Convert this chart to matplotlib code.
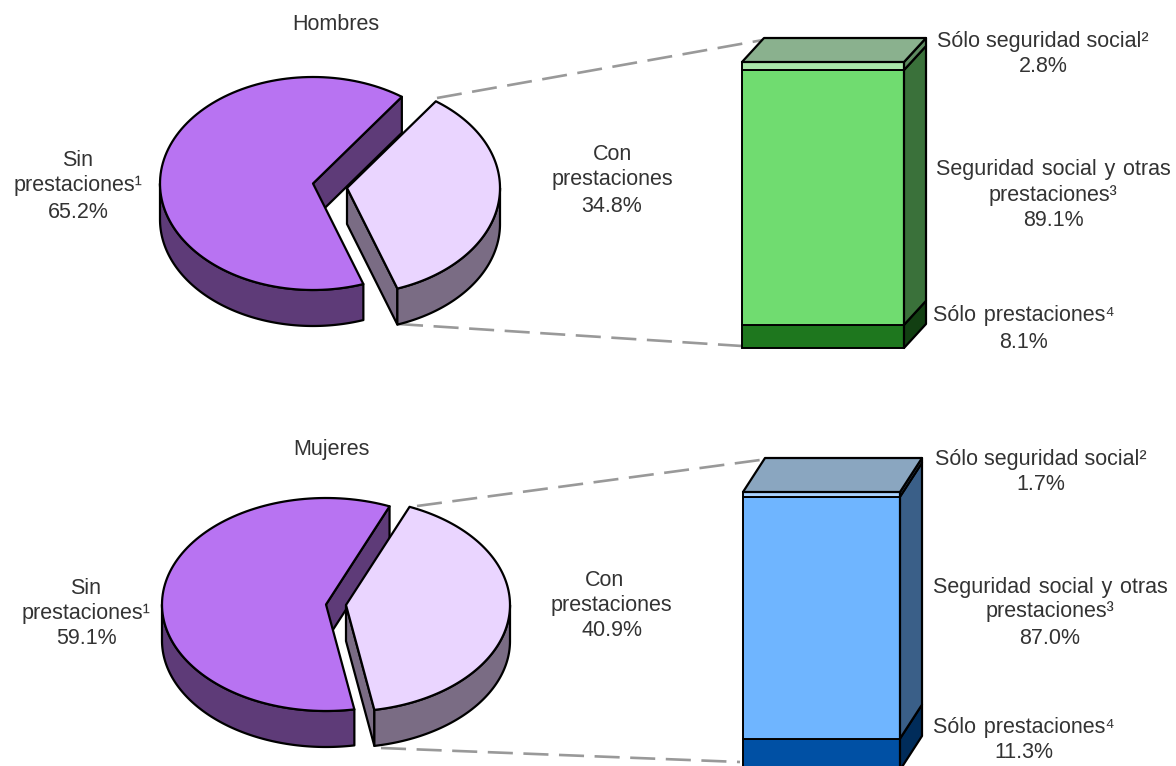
import numpy as np
import matplotlib
matplotlib.use("Agg")
import matplotlib.pyplot as plt
from matplotlib.patches import Polygon

plt.rcParams["font.family"] = ["Liberation Sans", "DejaVu Sans"]

# data
hombres_pie = [65.2, 34.8]
mujeres_pie = [59.1, 40.9]
hombres_bar = [8.1, 89.1, 2.8]
mujeres_bar = [11.3, 87.0, 1.7]

purple = ["#B873F2", "#5E3B78"]
lilac = ["#EAD5FF", "#7A6C84"]
hombres_colors = [
    ("#1E771E", "#123F12"),
    ("#70DC70", "#3A713A"),
    ("#A9E6A9", "#5E8A60"),
]
hombres_top = "#8AB18E"
mujeres_colors = [
    ("#0050A4", "#002C5A"),
    ("#6FB5FF", "#3A5F88"),
    ("#A9D2FF", "#4E6A88"),
]
mujeres_top = "#8AA6C0"

TEXT = "#333333"
DASH = "#999999"
FS = 15.5
HAIR = "\u200a"


def arc(cx, cy, rx, ry, a0, a1, n=120):
    t = np.radians(np.linspace(a0, a1, n))
    return np.column_stack([cx + rx * np.cos(t), cy - ry * np.sin(t)])


def face(ax, pts, color, z=2):
    ax.add_patch(Polygon(pts, closed=True, facecolor=color, edgecolor="black",
                         linewidth=1.6, joinstyle="round", zorder=z))


def draw_pie(ax, values, cx, cy, rx, ry, depth, start, offset):
    # second value is the separated slice, running clockwise from start
    span = values[1] / sum(values) * 360
    end = start - span
    down = np.array([0, depth])

    # large slice
    c = np.array([cx, cy])
    rim = arc(cx, cy, rx, ry, start, end + 360)
    face(ax, [c, rim[0], rim[0] + down, c + down], purple[1])
    side = arc(cx, cy, rx, ry, 180, end + 360)
    face(ax, np.vstack([side, side[::-1] + down]), purple[1])
    face(ax, np.vstack([c, rim]), purple[0])

    # separated slice
    c = c + np.array(offset)
    rim = arc(c[0], c[1], rx, ry, end, start)
    face(ax, [c, rim[0], rim[0] + down, c + down], lilac[1])
    side = arc(c[0], c[1], rx, ry, end, 0)
    face(ax, np.vstack([side, side[::-1] + down]), lilac[1])
    face(ax, np.vstack([c, rim]), lilac[0])


def draw_bar(ax, values, colors, top_color, x0, x1, y_top, y_bottom, dx, dy):
    scale = (y_bottom - y_top) / sum(values)
    level = y_bottom
    for val, (front, right) in zip(values, colors):
        h = val * scale
        ax.bar((x0 + x1) / 2, -h, width=x1 - x0, bottom=level, color=front,
               edgecolor="black", linewidth=1.4, zorder=3)
        face(ax, [(x1, level), (x1 + dx, level - dy), (x1 + dx, level - h - dy),
                  (x1, level - h)], right, z=3)
        level -= h
    face(ax, [(x0, level), (x0 + dx, level - dy), (x1 + dx, level - dy), (x1, level)],
         top_color, z=3)


def dashed(ax, p0, p1):
    ax.plot([p0[0], p1[0]], [p0[1], p1[1]], color=DASH, linewidth=1.9,
            linestyle=(0, (9.5, 4)), dash_capstyle="butt", zorder=1)


def label(ax, x, y, s):
    ax.text(x, y + 1, s, ha="center", va="center", fontsize=FS, color=TEXT, zorder=5)


fig = plt.figure(figsize=(11.76, 7.66), dpi=100)
ax = fig.add_axes([0, 0, 1, 1])
ax.set_xlim(0, 1176)
ax.set_ylim(766, 0)
ax.axis("off")

seg_otras = f"Seguridad{HAIR} social{HAIR} y{HAIR} otras"
solo_prest = f"Sólo{HAIR} prestaciones⁴"

# Hombres
dashed(ax, (437, 98), (763, 40))
dashed(ax, (398, 324), (742, 346))
draw_pie(ax, hombres_pie, 313, 183.5, 153, 106.5, 36, 54.5, (34, 4.5))
draw_bar(ax, hombres_bar, hombres_colors, hombres_top, 742, 904, 62, 348, 22, 24)

label(ax, 336, 24, "Hombres")
label(ax, 78, 160, "Sin")
label(ax, 78, 185, "prestaciones¹")
label(ax, 78, 211, f"{hombres_pie[0]:.1f}%")
label(ax, 612, 153, "Con")
label(ax, 612, 179, "prestaciones")
label(ax, 612, 205, f"{hombres_pie[1]:.1f}%")
label(ax, 1043, 41, "Sólo seguridad social²")
label(ax, 1043, 66, f"{hombres_bar[2]:.1f}%")
label(ax, 1053, 168, seg_otras)
label(ax, 1053, 195, "prestaciones³")
label(ax, 1053, 220, f"{hombres_bar[1]:.1f}%")
label(ax, 1024, 315, solo_prest)
label(ax, 1024, 341, f"{hombres_bar[0]:.1f}%")

# Mujeres
dashed(ax, (417, 506), (760, 460))
dashed(ax, (381, 748), (740, 762))
draw_pie(ax, mujeres_pie, 326, 604.5, 164, 106.5, 36, 67.2, (20, 0.5))
draw_bar(ax, mujeres_bar, mujeres_colors, mujeres_top, 743, 900, 492, 770, 22, 34)

label(ax, 331, 448, "Mujeres")
label(ax, 86, 587, "Sin")
label(ax, 86, 612, "prestaciones¹")
label(ax, 86, 638, f"{mujeres_pie[0]:.1f}%")
label(ax, 604, 579, "Con")
label(ax, 611, 605, "prestaciones")
label(ax, 612, 630, f"{mujeres_pie[1]:.1f}%")
label(ax, 1041, 458, "Sólo seguridad social²")
label(ax, 1041, 484, f"{mujeres_bar[2]:.1f}%")
label(ax, 1050, 586, seg_otras)
label(ax, 1050, 611, "prestaciones³")
label(ax, 1050, 638, f"{mujeres_bar[1]:.1f}%")
label(ax, 1024, 726, solo_prest)
label(ax, 1024, 752, f"{mujeres_bar[0]:.1f}%")

fig.savefig("out.png", dpi=100)
